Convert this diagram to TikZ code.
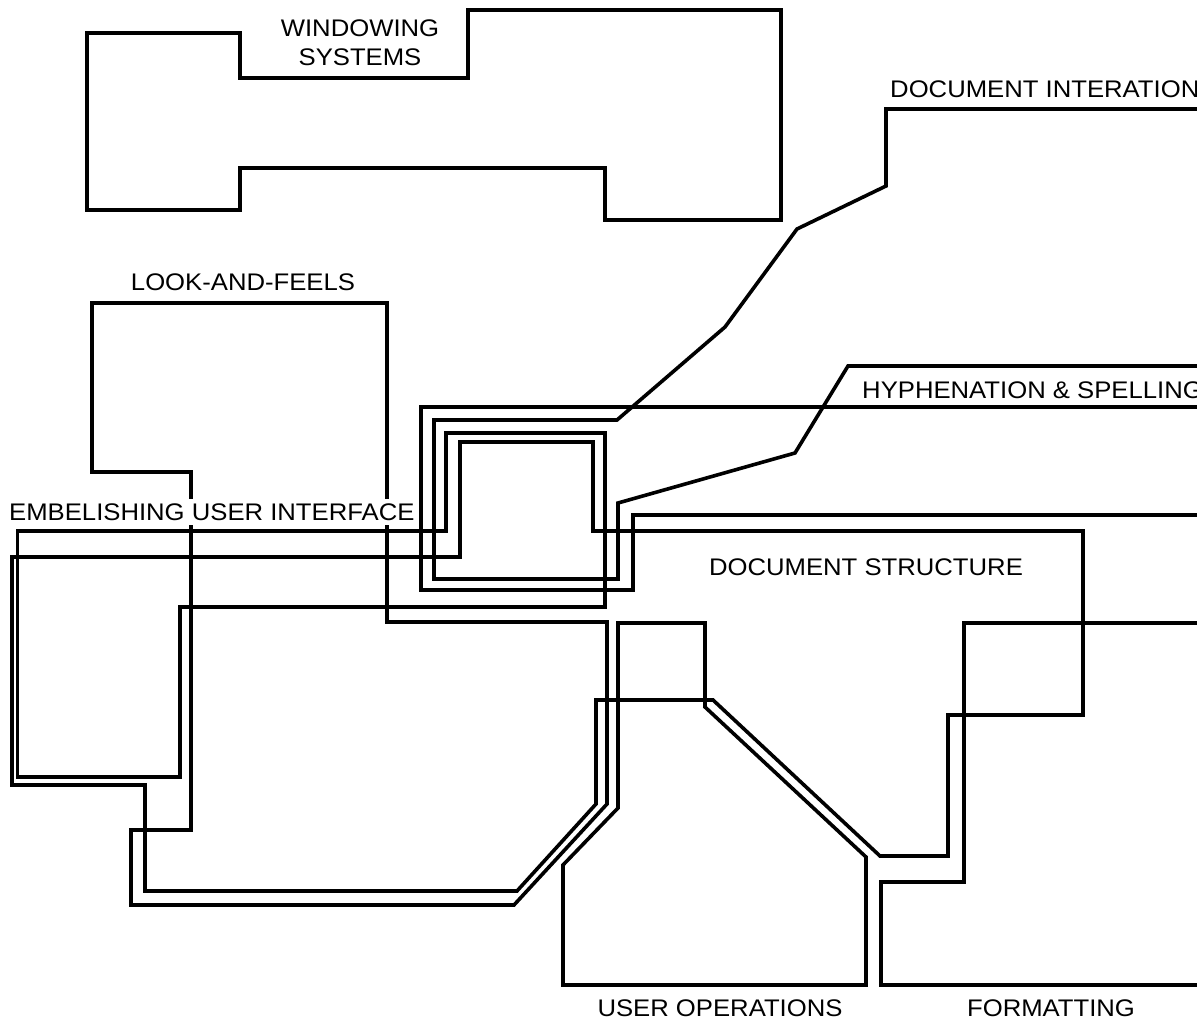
\documentclass[tikz,border=0pt]{standalone}
\usepackage{fontspec}
\setmainfont{Liberation Sans}[FakeStretch=1.07]
\begin{document}
\begin{tikzpicture}[x=1pt,y=-1pt,
  region/.style={line width=3.6pt, line join=miter},
  lbl/.style={font=\fontsize{24}{29}\selectfont, inner sep=2pt,
              text height=17.2pt, text depth=0pt},
  masked/.style={lbl, fill=white, inner sep=4pt}]
\useasboundingbox (0,0) rectangle (1197,1022);

% Windowing systems
\draw[region] (87,33) -- (240,33) -- (240,78) -- (468,78) -- (468,10)
  -- (781,10) -- (781,220) -- (605,220) -- (605,168) -- (240,168)
  -- (240,210) -- (87,210) -- cycle;

% Document interation (runs off the right edge)
\draw[region] (1205,109) -- (886,109) -- (886,186) -- (797,229) -- (725,327)
  -- (617,420) -- (434,420) -- (434,579) -- (618,579) -- (618,503)
  -- (795,453) -- (848,366) -- (1205,366);

% Hyphenation & spelling
\draw[region] (1205,407) -- (421,407) -- (421,590) -- (633,590)
  -- (633,515) -- (1205,515);

% Embelishing user interface
\draw[region] (17.5,531) -- (446,531) -- (446,433) -- (605,433) -- (605,607)
  -- (180,607) -- (180,777) -- (17.5,777) -- cycle;

% Document structure
\draw[region] (12,557) -- (460,557) -- (460,442) -- (593,442) -- (593,531)
  -- (1083,531) -- (1083,715) -- (948,715) -- (948,856) -- (880,856)
  -- (713,700) -- (596,700) -- (596,804) -- (517,891) -- (145,891)
  -- (145,785) -- (12,785) -- cycle;

% Look-and-feels
\draw[region] (92,303) -- (387,303) -- (387,622) -- (607,622) -- (607,804)
  -- (514,905) -- (131,905) -- (131,830) -- (191,830) -- (191,472)
  -- (92,472) -- cycle;

% User operations
\draw[region] (618,623) -- (705,623) -- (705,707) -- (866,857) -- (866,985)
  -- (563,985) -- (563,865) -- (618,808) -- cycle;

% Formatting (runs off the right edge)
\draw[region] (1205,623) -- (964,623) -- (964,882) -- (881,882)
  -- (881,985) -- (1205,985);

% Labels
\node[lbl, align=center] (win) at (360,57) {WINDOWING\\SYSTEMS};
\node[lbl, anchor=west] (docint) at (888,89) {DOCUMENT INTERATION};
\node[lbl, anchor=west] (hyph) at (860,390) {HYPHENATION \& SPELLING};
\node[lbl] (look) at (243,282) {LOOK-AND-FEELS};
\node[masked, anchor=west] (embel) at (5,512) {EMBELISHING USER INTERFACE};
\node[lbl] (docstruct) at (866,567) {DOCUMENT STRUCTURE};
\node[lbl] (userops) at (720,1008) {USER OPERATIONS};
\node[lbl] (fmt) at (1051,1008) {FORMATTING};
\end{tikzpicture}
\end{document}
